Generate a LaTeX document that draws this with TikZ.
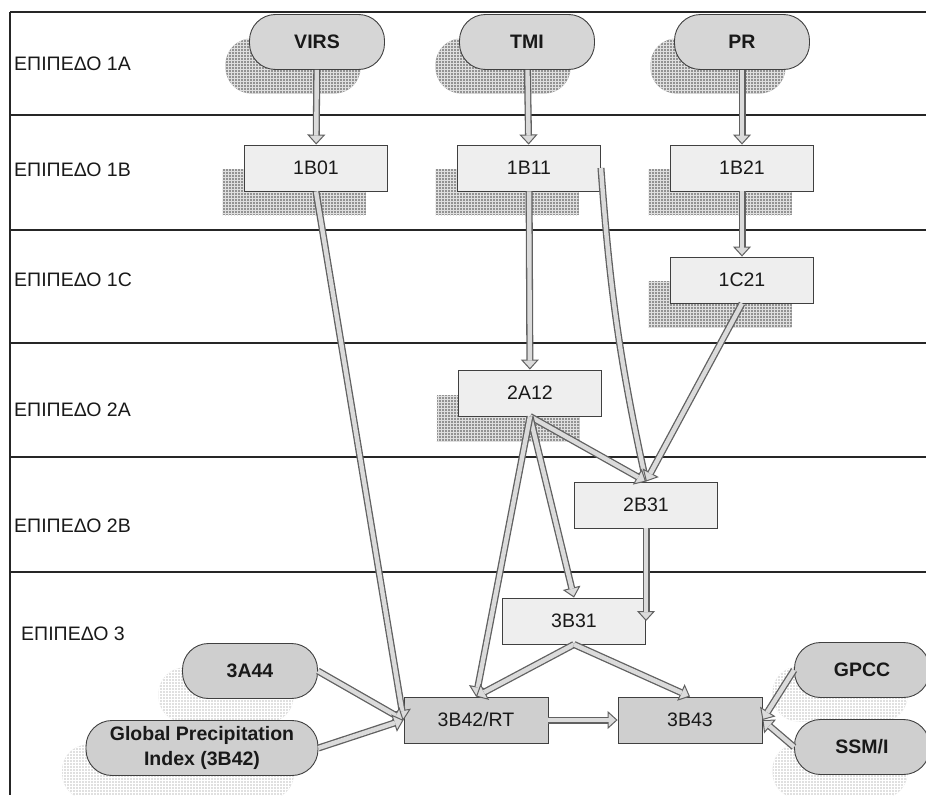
\documentclass[tikz,border=0pt]{standalone}
\usepackage{fontspec}
\setmainfont{Liberation Sans}
\usetikzlibrary{arrows.meta,patterns}
\begin{document}
\begin{tikzpicture}[x=1pt,y=-1pt,
  rule/.style={draw=black!85,line width=1.1pt},
  lab/.style={anchor=west,inner sep=0pt,text=black!90,font=\fontsize{19.5}{23}\selectfont},
  pill/.style={draw=black!75,line width=0.9pt,rounded corners=26pt,minimum width=135pt,minimum height=55pt,
    inner sep=0pt,align=center,fill=gray!32,text=black!90,font=\fontsize{19.5}{25}\selectfont\bfseries},
  pillb/.style={pill,fill=gray!38},
  box/.style={draw=black!75,line width=0.9pt,minimum width=143pt,minimum height=46pt,inner sep=0pt,
    fill=gray!13,text=black!90,font=\fontsize{19.5}{23}\selectfont},
  boxd/.style={box,fill=gray!38,minimum width=144pt},
  shad/.style={draw=none,fill=gray!85,postaction={pattern=grid,pattern color=gray!25}},
  shadl/.style={draw=none,fill=gray!24,postaction={pattern=grid,pattern color=white}},
  arr/.style={draw=black!62,line width=7pt,
    -{Triangle[length=10pt,width=18pt,fill=gray!28,line width=1pt]},
    postaction={draw=gray!28,line width=4.4pt,-,shorten >=9pt}}
]
\useasboundingbox (0,0) rectangle (926,795);
\clip (0,0) rectangle (926,795);
\fill[white] (0,0) rectangle (926,795);
% level rules
\draw[rule] (10,12) -- (926,12);
\draw[rule] (10,115) -- (926,115);
\draw[rule] (10,230) -- (926,230);
\draw[rule] (10,343) -- (926,343);
\draw[rule] (10,457) -- (926,457);
\draw[rule] (10,572) -- (926,572);
\draw[rule] (10,12) -- (10,795);
% level labels
\node[lab] (l1A) at (14,64) {ΕΠΙΠΕΔΟ 1A};
\node[lab] (l1B) at (14,170) {ΕΠΙΠΕΔΟ 1B};
\node[lab] (l1C) at (14,280) {ΕΠΙΠΕΔΟ 1C};
\node[lab] (l2A) at (14,410) {ΕΠΙΠΕΔΟ 2A};
\node[lab] (l2B) at (14,526) {ΕΠΙΠΕΔΟ 2B};
\node[lab] (l3) at (21,634) {ΕΠΙΠΕΔΟ 3};
% shadows
\node[pill,shad] (sVIRS) at (293,66) {};
\node[pill,shad] (sTMI) at (503,66) {};
\node[pill,shad] (sPR) at (718,66) {};
\node[box,shad] (s1B01) at (294,192) {};
\node[box,shad] (s1B11) at (507,192) {};
\node[box,shad] (s1B21) at (720,192) {};
\node[box,shad] (s1C21) at (720,304) {};
\node[box,shad] (s2A12) at (508,418) {};
\node[pill,shadl] (s3A44) at (226,695) {};
\node[pill,shadl,minimum width=232pt] (sGPI) at (178,772) {};
\node[pill,shadl] (sGPCC) at (840,694) {};
\node[pill,shadl] (sSSMI) at (840,771) {};
% nodes
\node[pill] (VIRS) at (317,42) {VIRS};
\node[pill] (TMI) at (527,42) {TMI};
\node[pill] (PR) at (742,42) {PR};
\node[box] (1B01) at (316,168) {1B01};
\node[box] (1B11) at (529,168) {1B11};
\node[box] (1B21) at (742,168) {1B21};
\node[box] (1C21) at (742,280) {1C21};
\node[box] (2A12) at (530,393) {2A12};
\node[box] (2B31) at (646,505) {2B31};
\node[box] (3B31) at (574,621) {3B31};
\node[boxd] (3B42) at (476,720) {3B42/RT};
\node[boxd] (3B43) at (690,720) {3B43};
\node[pillb] (3A44) at (250,671) {3A44};
\node[pillb,minimum width=232pt] (GPI) at (202,748) {Global Precipitation\\Index (3B42)};
\node[pillb] (GPCC) at (862,670) {GPCC};
\node[pillb] (SSMI) at (862,747) {SSM/I};
% connectors
\draw[arr] (VIRS) -- (1B01);
\draw[arr] (TMI) -- (1B11);
\draw[arr] (PR) -- (1B21);
\draw[arr] (1B21) -- (1C21);
\draw[arr] (1B11) -- (2A12);
\draw[arr] (1B01.south) -- (3B42.west);
\draw[arr] (1B11.east) to[bend right=4] (2B31.north);
\draw[arr] (1C21.south) -- (2B31.north);
\draw[arr] (2A12.south) -- (2B31.north);
\draw[arr] (2A12.south) -- (3B31.north);
\draw[arr] (2A12.south) -- (3B42.north);
\draw[arr] (2B31.south) -- (2B31.south |- 3B31.east);
\draw[arr] (3B31.south) -- (3B42.north);
\draw[arr] (3B31.south) -- (3B43.north);
\draw[arr] (3A44.east) -- (3B42.west);
\draw[arr] (GPI.east) -- (3B42.west);
\draw[arr] (3B42.east) -- (3B43.west);
\draw[arr] (GPCC.west) -- (3B43.east);
\draw[arr] (SSMI.west) -- (3B43.east);
\end{tikzpicture}
\end{document}
